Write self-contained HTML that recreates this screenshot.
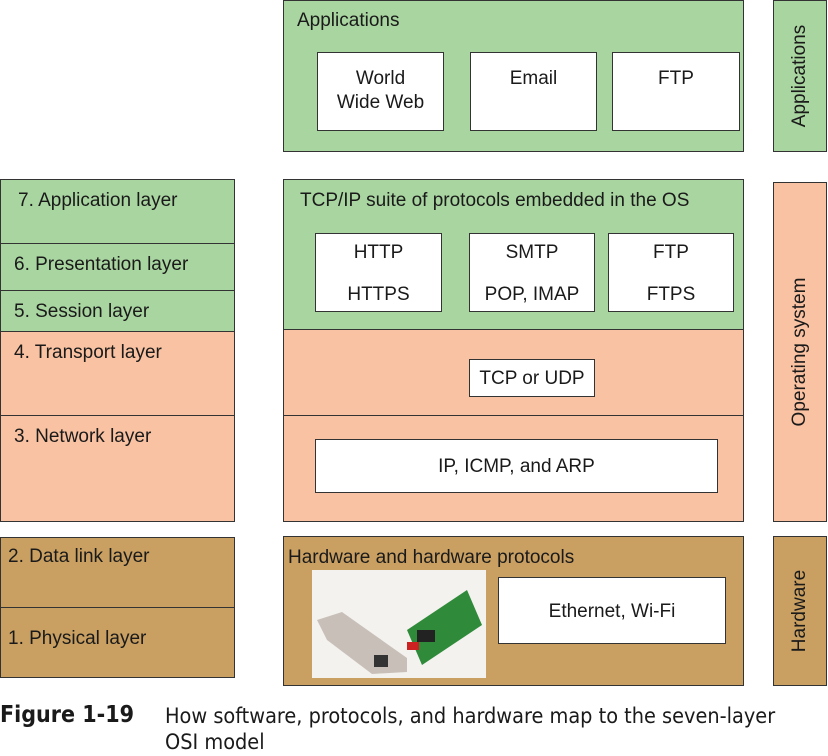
<!DOCTYPE html>
<html><head><style>
body{margin:0;width:828px;height:754px;background:#fff;position:relative;overflow:hidden;font-family:"Liberation Sans",sans-serif;color:#1a1a1a}
.b{position:absolute;box-sizing:border-box;border:1.5px solid #333}
.g{background:#a9d5a0}.p{background:#f9c2a2}.t{background:#c9a062}
.w{background:#fff;text-align:center;font-size:19px;border:1.5px solid #333}
.l{position:absolute;font-size:19px;white-space:nowrap}
.v{position:absolute;font-size:19px;white-space:nowrap;transform:translate(-50%,-50%) rotate(-90deg)}
</style></head><body>
<div class="b g" style="left:0;top:179px;width:235px;height:65px"></div>
<div class="b g" style="left:0;top:243px;width:235px;height:48px"></div>
<div class="b g" style="left:0;top:290px;width:235px;height:42px"></div>
<div class="b p" style="left:0;top:331px;width:235px;height:85px"></div>
<div class="b p" style="left:0;top:415px;width:235px;height:107px"></div>
<div class="l" style="left:18px;top:190px">7. Application layer</div>
<div class="l" style="left:14px;top:254px">6. Presentation layer</div>
<div class="l" style="left:14px;top:301px">5. Session layer</div>
<div class="l" style="left:14px;top:342px">4. Transport layer</div>
<div class="l" style="left:14px;top:426px">3. Network layer</div>
<div class="b t" style="left:0;top:537px;width:235px;height:71px"></div>
<div class="b t" style="left:0;top:607px;width:235px;height:71px"></div>
<div class="l" style="left:8px;top:546px">2. Data link layer</div>
<div class="l" style="left:8px;top:628px">1. Physical layer</div>
<div class="b g" style="left:283px;top:0;width:461px;height:152px"></div>
<div class="l" style="left:297px;top:10px">Applications</div>
<div class="b w" style="left:317px;top:52px;width:127px;height:79px;padding-top:14px;line-height:24px">World<br>Wide Web</div>
<div class="b w" style="left:470px;top:52px;width:127px;height:79px;padding-top:14px;line-height:24px">Email</div>
<div class="b w" style="left:612px;top:52px;width:128px;height:79px;padding-top:14px;line-height:24px">FTP</div>
<div class="b g" style="left:283px;top:179px;width:461px;height:151px"></div>
<div class="l" style="left:300px;top:190px">TCP/IP suite of protocols embedded in the OS</div>
<div class="b w" style="left:315px;top:233px;width:127px;height:79px;padding-top:8px;line-height:21px">HTTP<br><br>HTTPS</div>
<div class="b w" style="left:469px;top:233px;width:126px;height:79px;padding-top:8px;line-height:21px">SMTP<br><br>POP, IMAP</div>
<div class="b w" style="left:608px;top:233px;width:126px;height:79px;padding-top:8px;line-height:21px">FTP<br><br>FTPS</div>
<div class="b p" style="left:283px;top:329px;width:461px;height:87px"></div>
<div class="b w" style="left:469px;top:359px;width:126px;height:38px;line-height:38px">TCP or UDP</div>
<div class="b p" style="left:283px;top:415px;width:461px;height:107px"></div>
<div class="b w" style="left:315px;top:439px;width:403px;height:54px;line-height:54px">IP, ICMP, and ARP</div>
<div class="b t" style="left:283px;top:536px;width:461px;height:150px"></div>
<div class="l" style="left:288px;top:547px">Hardware and hardware protocols</div>
<div style="position:absolute;left:312px;top:570px;width:174px;height:108px;background:#f4f2ef">
<svg width="174" height="108"><polygon points="95,60 155,20 170,55 110,95" fill="#2f8a3a"/><polygon points="5,50 30,42 95,88 95,102 60,104 15,70" fill="#c8c0b8"/><rect x="62" y="85" width="14" height="12" fill="#333"/><rect x="105" y="60" width="18" height="12" fill="#222"/><rect x="95" y="72" width="12" height="8" fill="#c22"/></svg></div>
<div class="b w" style="left:498px;top:577px;width:228px;height:67px;line-height:67px">Ethernet, Wi-Fi</div>
<div class="b g" style="left:773px;top:0;width:54px;height:152px"></div>
<div class="v" style="left:800px;top:76px">Applications</div>
<div class="b p" style="left:773px;top:182px;width:54px;height:340px"></div>
<div class="v" style="left:800px;top:352px">Operating system</div>
<div class="b t" style="left:773px;top:536px;width:54px;height:150px"></div>
<div class="v" style="left:800px;top:611px">Hardware</div>
<div class="l" style="left:0;top:702px;font-size:23px;font-weight:bold;font-family:'DejaVu Sans Condensed',sans-serif">Figure 1-19</div>
<div class="l" style="left:165px;top:704px;font-size:21.5px;line-height:26px;font-family:'DejaVu Sans Condensed',sans-serif">How software, protocols, and hardware map to the seven-layer<br>OSI model</div>
</body></html>
